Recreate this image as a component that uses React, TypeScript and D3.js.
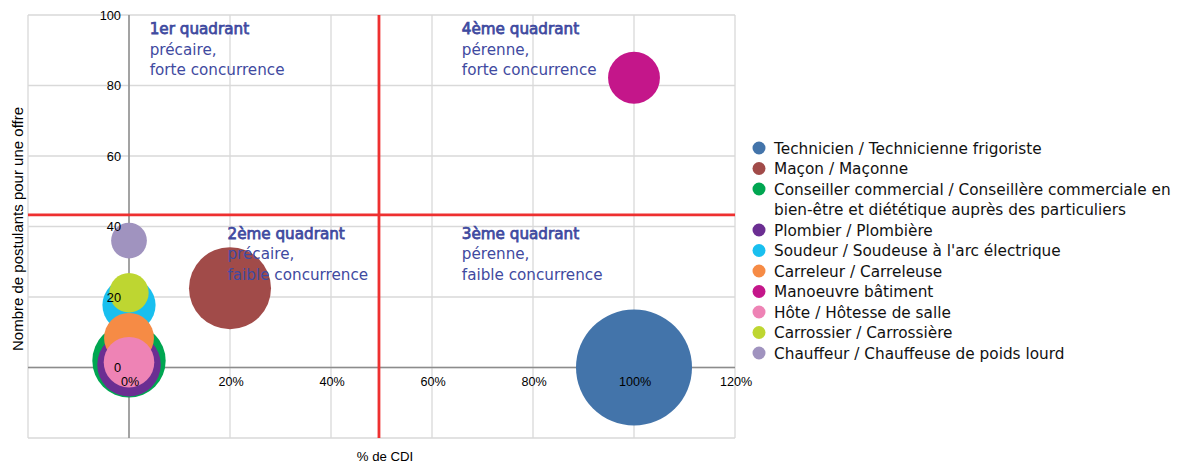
import React from "react";
import * as d3 from "d3";

const categories = [
  "Technicien / Technicienne frigoriste",
  "Maçon / Maçonne",
  "Conseiller commercial / Conseillère commerciale en|bien-être et diététique auprès des particuliers",
  "Plombier / Plombière",
  "Soudeur / Soudeuse à l'arc électrique",
  "Carreleur / Carreleuse",
  "Manoeuvre bâtiment",
  "Hôte / Hôtesse de salle",
  "Carrossier / Carrossière",
  "Chauffeur / Chauffeuse de poids lourd",
];
const pctCDI = [100, 20, 0, 0, 0, 0, 100, 0, 0, 0];
const postulants = [0, 22.5, 1.9, 0.8, 17.7, 8.4, 82.2, 1.5, 21.2, 36];
const offers = [10, 5, 4, 3, 2.1, 1.85, 2, 1.9, 1.15, 0.95];
const colors = [
  "#4374AA", "#A14B49", "#00A651", "#6B2E92", "#19BFEF",
  "#F68B45", "#C4168A", "#EE83B5", "#BED631", "#A093BF",
];
const xTicks = [-20, 0, 20, 40, 60, 80, 100, 120];
const yTicks = [-20, 0, 20, 40, 60, 80, 100];
const xThreshold = 49.5;
const yThreshold = 43.3;
const quadrants = [
  { title: "1er quadrant", l1: "précaire,", l2: "forte concurrence", x: 4.1, y: 94.5 },
  { title: "4ème quadrant", l1: "pérenne,", l2: "forte concurrence", x: 65.9, y: 94.5 },
  { title: "2ème quadrant", l1: "précaire,", l2: "faible concurrence", x: 19.5, y: 36.5 },
  { title: "3ème quadrant", l1: "pérenne,", l2: "faible concurrence", x: 65.9, y: 36.5 },
];

const W = 1190;
const H = 466;
const x = d3.scaleLinear().domain([-20, 120]).range([28, 735]);
const y = d3.scaleLinear().domain([-20, 100]).range([438, 15]);
const r = d3.scaleSqrt().domain([0, 10]).range([0, 58]);

const tickFont = "'Liberation Sans', Arial, sans-serif";
const textFont = "'DejaVu Sans', Verdana, sans-serif";
const quadColor = "#3F4AA0";

export default function App() {
  const order = d3.range(categories.length);
  let legendY = 148;
  const legendRows: { i: number; lines: string[]; y: number }[] = [];
  order.forEach((i) => {
    const lines = categories[i].split("|");
    legendRows.push({ i, lines, y: legendY });
    legendY += 20.5 * lines.length;
  });
  return (
    <div>
      <style>{`body{margin:0;background:#fff}`}</style>
      <svg width={W} height={H} style={{ display: "block" }}>
        <rect width={W} height={H} fill="#fff" />
        {/* grid */}
        {xTicks.map((t) => (
          <line key={"gx" + t} x1={x(t)} x2={x(t)} y1={y(-20)} y2={y(100)} stroke="#D9D9D9" strokeWidth={1.3} />
        ))}
        {yTicks.map((t) => (
          <line key={"gy" + t} x1={x(-20)} x2={x(120)} y1={y(t)} y2={y(t)} stroke="#D9D9D9" strokeWidth={1.3} />
        ))}
        {/* axes */}
        <line x1={x(0)} x2={x(0)} y1={y(-20)} y2={y(100)} stroke="#8C8C8C" strokeWidth={1.5} />
        <line x1={x(-20)} x2={x(120)} y1={y(0)} y2={y(0)} stroke="#8C8C8C" strokeWidth={1.5} />
        {/* thresholds */}
        <line x1={x(xThreshold)} x2={x(xThreshold)} y1={y(-20)} y2={y(100)} stroke="#EE3030" strokeWidth={2.8} />
        <line x1={x(-20)} x2={x(120)} y1={y(yThreshold)} y2={y(yThreshold)} stroke="#EE3030" strokeWidth={2.8} />
        {/* bubbles */}
        {order.map((i) => (
          <circle key={"b" + i} cx={x(pctCDI[i])} cy={y(postulants[i])} r={r(offers[i])} fill={colors[i]} />
        ))}
        {/* tick labels */}
        {yTicks.filter((t) => t >= 0).map((t) => (
          <text key={"ty" + t} x={x(0) - 8} y={y(t) + 4.5} textAnchor="end" fontFamily={tickFont} fontSize={12.8} fill="#000">
            {t}
          </text>
        ))}
        {xTicks.filter((t) => t >= 0).map((t) => (
          <text key={"tx" + t} x={x(t) + 1} y={y(0) + 18} textAnchor="middle" fontFamily={tickFont} fontSize={12.6} fill="#000">
            {t + "%"}
          </text>
        ))}
        {/* quadrant labels */}
        {quadrants.map((q) => (
          <g key={q.title} fontFamily={textFont} fontSize={15.2} fill={quadColor}>
            <text x={x(q.x)} y={y(q.y)} stroke={quadColor} strokeWidth={0.75}>{q.title}</text>
            <text x={x(q.x)} y={y(q.y) + 20.5}>{q.l1}</text>
            <text x={x(q.x)} y={y(q.y) + 41}>{q.l2}</text>
          </g>
        ))}
        {/* axis titles */}
        <text x={385} y={461} textAnchor="middle" fontFamily={tickFont} fontSize={13.2} fill="#000">% de CDI</text>
        <text transform={`translate(23,${229}) rotate(-90)`} textAnchor="middle" fontFamily={tickFont} fontSize={15} fill="#000">
          Nombre de postulants pour une offre
        </text>
        {/* legend */}
        {legendRows.map((row) => (
          <g key={"lg" + row.i}>
            <circle cx={759} cy={row.y} r={6.5} fill={colors[row.i]} />
            {row.lines.map((ln, k) => (
              <text key={k} x={774} y={row.y + 5.5 + k * 20.5} fontFamily={textFont} fontSize={15.3} fill="#111">
                {ln}
              </text>
            ))}
          </g>
        ))}
      </svg>
    </div>
  );
}
